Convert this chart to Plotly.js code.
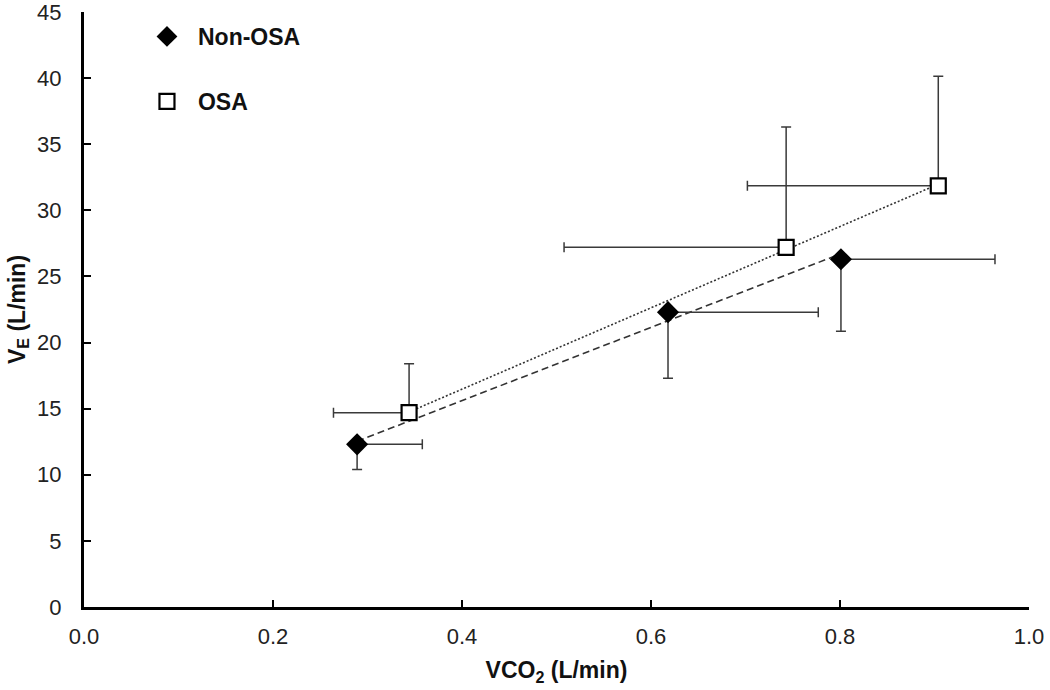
<!DOCTYPE html>
<html><head><meta charset="utf-8">
<script src="https://cdn.plot.ly/plotly-3.0.1.min.js"></script>
<style>html,body{margin:0;padding:0;background:#fff}#chart{width:1050px;height:690px}</style>
</head><body><div id="chart"></div>
<script>
// Non-OSA group
const nonOsaX = [0.289, 0.618, 0.801];
const nonOsaY = [12.3, 22.3, 26.3];
const nonOsaXErrPlus = [0.069, 0.159, 0.163];
const nonOsaYErrMinus = [1.9, 5.0, 5.45];
// OSA group
const osaX = [0.344, 0.743, 0.904];
const osaY = [14.7, 27.2, 31.85];
const osaXErrMinus = [0.080, 0.235, 0.202];
const osaYErrPlus = [3.7, 9.1, 8.3];

const xTicks = [0, 0.2, 0.4, 0.6, 0.8, 1.0];
const yTicks = [0, 5, 10, 15, 20, 25, 30, 35, 40, 45];

function fit(xs, ys) {
  const n = xs.length;
  const mx = xs.reduce((a, b) => a + b, 0) / n;
  const my = ys.reduce((a, b) => a + b, 0) / n;
  let sxy = 0, sxx = 0;
  for (let i = 0; i < n; i++) { sxy += (xs[i] - mx) * (ys[i] - my); sxx += (xs[i] - mx) ** 2; }
  const b = sxy / sxx, a = my - b * mx;
  const x0 = Math.min(...xs), x1 = Math.max(...xs);
  return { x: [x0, x1], y: [a + b * x0, a + b * x1] };
}
const tN = fit(nonOsaX, nonOsaY);
const tO = fit(osaX, osaY);

const errColor = '#3a3a3a';
const traces = [
  { x: tN.x, y: tN.y, mode: 'lines', showlegend: false, hoverinfo: 'skip',
    line: { color: '#333', width: 1.6, dash: '7px,4px' } },
  { x: tO.x, y: tO.y, mode: 'lines', showlegend: false, hoverinfo: 'skip',
    line: { color: '#333', width: 1.6, dash: '2px,2px' } },
  { x: nonOsaX, y: nonOsaY, mode: 'markers', name: 'Non-OSA', legendgroup: 'a',
    marker: { symbol: 'diamond', size: 17, color: '#000', line: { width: 0 } },
    error_x: { type: 'data', symmetric: false, array: nonOsaXErrPlus, arrayminus: [0, 0, 0], color: errColor, thickness: 1.5, width: 5 },
    error_y: { type: 'data', symmetric: false, array: [0, 0, 0], arrayminus: nonOsaYErrMinus, color: errColor, thickness: 1.5, width: 5 } },
  { x: osaX, y: osaY, mode: 'markers', name: 'OSA', legendgroup: 'b',
    marker: { symbol: 'square', size: 15, color: '#fff', line: { width: 2.2, color: '#000' } },
    error_x: { type: 'data', symmetric: false, array: [0, 0, 0], arrayminus: osaXErrMinus, color: errColor, thickness: 1.5, width: 5 },
    error_y: { type: 'data', symmetric: false, array: osaYErrPlus, arrayminus: [0, 0, 0], color: errColor, thickness: 1.5, width: 5 } }
];

const fam = 'Liberation Sans, Arial, sans-serif';
const tickFont = { family: fam, size: 22, color: '#222' };
const titleFont = { family: fam, size: 23, color: '#111', weight: 'bold' };

const layout = {
  width: 1050, height: 690,
  margin: { l: 84, r: 21, t: 12, b: 83 },
  paper_bgcolor: '#fff', plot_bgcolor: '#fff',
  showlegend: true,
  legend: { x: 0.055, y: 0.995, xanchor: 'left', yanchor: 'top', tracegroupgap: 32, itemwidth: 52,
    traceorder: 'grouped', bgcolor: 'rgba(0,0,0,0)',
    font: { family: fam, size: 23, color: '#111', weight: 'bold' } },
  xaxis: {
    range: [0, 1], tickvals: xTicks, ticktext: xTicks.map(v => v.toFixed(1)),
    showgrid: false, zeroline: false, showline: true, linecolor: '#000', linewidth: 3,
    ticks: 'inside', ticklen: 7, tickwidth: 2, tickcolor: '#000', ticklabelstandoff: 8,
    ticklabeloverflow: 'allow', tickfont: tickFont,
    title: { text: 'VCO<sub>2</sub> (L/min)', font: titleFont, standoff: 14 }
  },
  yaxis: {
    range: [0, 45], tickvals: yTicks,
    showgrid: false, zeroline: false, showline: true, linecolor: '#000', linewidth: 3,
    ticks: 'inside', ticklen: 7, tickwidth: 2, tickcolor: '#000', ticklabelstandoff: 15,
    ticklabeloverflow: 'allow', tickfont: tickFont,
    title: { text: 'V<sub>E</sub> (L/min)', font: titleFont, standoff: 6 }
  }
};

Plotly.newPlot('chart', traces, layout, { displayModeBar: false, staticPlot: true });
</script></body></html>
